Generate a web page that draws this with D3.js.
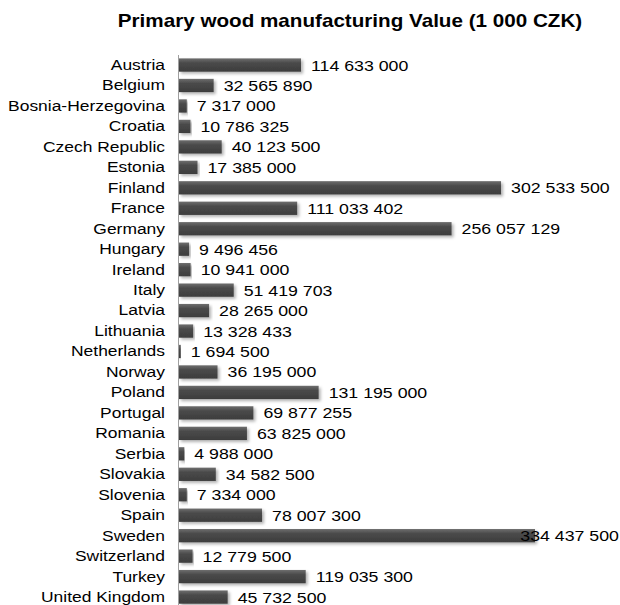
<!DOCTYPE html>
<html><head><meta charset="utf-8">
<script src="https://cdn.jsdelivr.net/npm/d3@7"></script>
<style>body{margin:0;background:#fff}svg{display:block}</style>
</head><body>
<script>
const countries = ["Austria","Belgium","Bosnia-Herzegovina","Croatia","Czech Republic","Estonia","Finland","France","Germany","Hungary","Ireland","Italy","Latvia","Lithuania","Netherlands","Norway","Poland","Portugal","Romania","Serbia","Slovakia","Slovenia","Spain","Sweden","Switzerland","Turkey","United Kingdom"];
const values = [114633000,32565890,7317000,10786325,40123500,17385000,302533500,111033402,256057129,9496456,10941000,51419703,28265000,13328433,1694500,36195000,131195000,69877255,63825000,4988000,34582500,7334000,78007300,334437500,12779500,119035300,45732500];
const title = "Primary wood manufacturing Value (1 000 CZK)";

const W = 620, H = 605;
const SX = 1.16, SXC = 1.14, SXT = 1.18; // horizontal stretch of the reference's text
const svg = d3.select("body").append("svg").attr("width", W).attr("height", H);
const font = "Arial, 'Liberation Sans', sans-serif";

const defs = svg.append("defs");
const g = defs.append("linearGradient").attr("id","bg").attr("x1",0).attr("y1",0).attr("x2",0).attr("y2",1);
g.append("stop").attr("offset","0%").attr("stop-color","#6e6e6e");
g.append("stop").attr("offset","35%").attr("stop-color","#4a4a4a");
g.append("stop").attr("offset","100%").attr("stop-color","#3d3d3d");
const f = defs.append("filter").attr("id","sh").attr("x","-5%").attr("y","-30%").attr("width","115%").attr("height","190%");
f.append("feDropShadow").attr("dx",2).attr("dy",2).attr("stdDeviation",1.5).attr("flood-color","#000").attr("flood-opacity",0.3);

const x = d3.scaleLinear().domain([0, d3.max(values)]).range([179, 535]);
const y = d3.scaleBand().domain(countries).range([54.8, 607.3]).paddingInner(0.35).paddingOuter(0.175);

svg.append("text").attr("transform", `translate(350,27) scale(${SXT},1)`).attr("text-anchor","middle")
  .attr("font-family", font).attr("font-weight","bold").attr("font-size", 17.5).attr("fill","#000").text(title);

svg.append("line").attr("x1",178.5).attr("x2",178.5).attr("y1",55).attr("y2",605).attr("stroke","#a0a0a0").attr("stroke-width",1);

const data = countries.map((c,i)=>({c, v: values[i]}));

svg.append("g").selectAll("rect").data(data).join("rect")
  .attr("x", x(0)).attr("y", d=>y(d.c)).attr("width", d=>x(d.v)-x(0)).attr("height", y.bandwidth())
  .attr("fill","url(#bg)").attr("filter","url(#sh)");

const yAxis = d3.axisLeft(y).tickSize(0).tickPadding(13);
const ya = svg.append("g").attr("transform","translate(178,0)").call(yAxis);
ya.select(".domain").remove();
ya.selectAll("text").attr("font-family", font).attr("font-size", 15.3).attr("fill","#000")
  .attr("transform", `scale(${SXC},1)`).attr("x", -13/SXC);

const fmt = v => d3.format(",")(v).replace(/,/g, " ");
const labels = svg.append("g").selectAll("text").data(data).join("text")
  .attr("dy","0.36em")
  .attr("font-family", font).attr("font-size", 15.3).attr("fill","#000")
  .text(d=>fmt(d.v));
labels.each(function(d){
  const w = this.getComputedTextLength() * SX;
  const lx = Math.min(x(d.v)+10, 619 - w);
  d3.select(this).attr("transform", `translate(${lx},${y(d.c)+y.bandwidth()/2}) scale(${SX},1)`);
});
</script>
</body></html>
